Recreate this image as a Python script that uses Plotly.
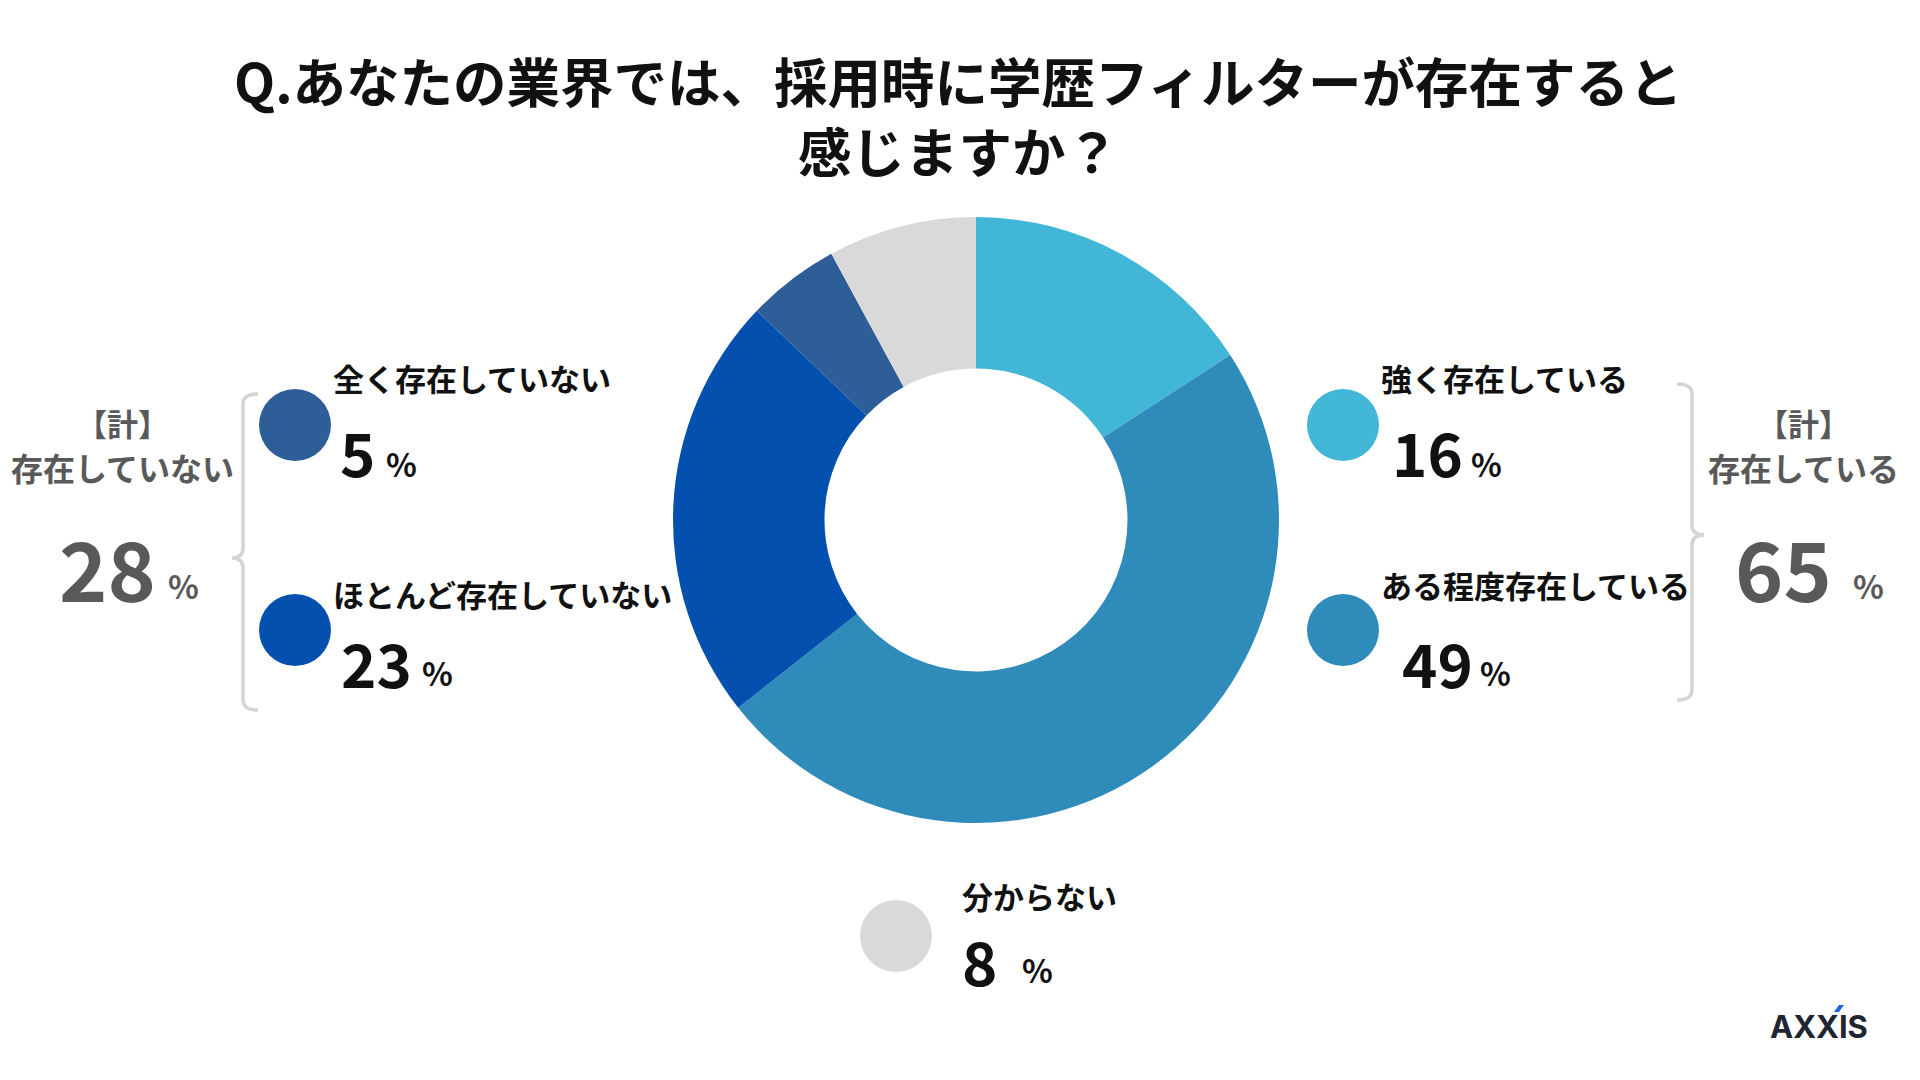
import plotly.graph_objects as go

# Data
categories = ["強く存在している", "ある程度存在している", "ほとんど存在していない", "全く存在していない", "分からない"]
values = [16, 49, 23, 5, 8]
colors = ["#41B6D6", "#2E8BBA", "#0350AE", "#2E5E98", "#D9D9D9"]
title_lines = ["Q.あなたの業界では、採用時に学歴フィルターが存在すると", "感じますか？"]
group_head = "【計】"
group_labels = ["存在している", "存在していない"]

W, H = 1920, 1080
FONT = "Noto Sans CJK JP"


def px(x):
    return x / W


def py(y):
    return 1 - y / H


fig = go.Figure()

cx, cy, R = 976, 520, 303
fig.add_trace(go.Pie(
    labels=categories, values=values, sort=False, direction="clockwise",
    hole=0.5, marker=dict(colors=colors, line=dict(width=0)),
    textinfo="none", hoverinfo="label+percent", showlegend=False,
    domain=dict(x=[px(cx - R), px(cx + R)], y=[py(cy + R), py(cy - R)]),
))

annotations = []
shapes = []


def ann(x, y, text, size, color="#111111", xanchor="left", align="left", family=FONT):
    annotations.append(dict(x=px(x), y=py(y), xref="paper", yref="paper", text=text,
                            showarrow=False, xanchor=xanchor, yanchor="middle", align=align,
                            font=dict(family=family, size=size, color=color, weight="bold")))


# Title (two lines)
ann(958, 79, title_lines[0], 53.5, xanchor="center", align="center")
ann(958, 150, title_lines[1], 53.5, xanchor="center", align="center")

# legend items: (index, circle cx, circle cy, label x, label y, number x, number y, pct x, pct y)
items = [
    (0, 1343, 425, 1379, 377, 1390, 456, 1469, 465),
    (1, 1343, 630, 1379, 584, 1400, 667, 1478, 674),
    (2, 295, 630, 331, 593, 339, 667, 420, 674),
    (3, 295, 425, 331, 377, 338, 456, 384, 465),
    (4, 896, 936, 960, 895, 960, 965, 1020, 971),
]
cr = 36
for idx, ccx, ccy, lx, ly, nx, ny, pxx, pyy in items:
    shapes.append(dict(type="circle", xref="paper", yref="paper",
                       x0=px(ccx - cr), x1=px(ccx + cr), y0=py(ccy + cr), y1=py(ccy - cr),
                       fillcolor=colors[idx], line=dict(width=0)))
    ann(lx, ly, categories[idx], 31)
    ann(nx, ny - 6, str(values[idx]), 60)
    ann(pxx, pyy - 2, "%", 32)

# Group totals
total_yes = values[0] + values[1]
total_no = values[2] + values[3]
groups = [
    (group_labels[0], total_yes, 1803, 1783, 1868),
    (group_labels[1], total_no, 123, 107, 183),
]
for lbl, tot, gx, nx, pctx in groups:
    ann(gx, 423, group_head, 31, color="#595959", xanchor="center", align="center")
    ann(gx, 467, lbl, 32, color="#595959", xanchor="center", align="center")
    ann(nx, 566, str(tot), 82, color="#595959", xanchor="center", align="center")
    ann(pctx, 585, "%", 32, color="#595959", xanchor="center", align="center")


# Braces
def brace_path(x_out, x_mid, x_tip, y0, y1, ym):
    c = 10
    return (f"M {px(x_out)},{py(y0)} "
            f"Q {px(x_mid)},{py(y0)} {px(x_mid)},{py(y0 + c)} "
            f"L {px(x_mid)},{py(ym - c)} "
            f"Q {px(x_mid)},{py(ym)} {px(x_tip)},{py(ym)} "
            f"Q {px(x_mid)},{py(ym)} {px(x_mid)},{py(ym + c)} "
            f"L {px(x_mid)},{py(y1 - c)} "
            f"Q {px(x_mid)},{py(y1)} {px(x_out)},{py(y1)}")


shapes.append(dict(type="path", xref="paper", yref="paper",
                   path=brace_path(258, 243, 232, 394, 710, 558),
                   line=dict(color="#D4D4D4", width=3.5)))
shapes.append(dict(type="path", xref="paper", yref="paper",
                   path=brace_path(1677, 1692, 1704, 384, 700, 535),
                   line=dict(color="#D4D4D4", width=3.5)))

# Logo
ann(1819, 1026, "AXXIS", 31, color="#1F2633", xanchor="center", align="center", family="Inter")
shapes.append(dict(type="path", xref="paper", yref="paper",
                   path=f"M {px(1834)},{py(1012)} L {px(1839)},{py(1012)} L {px(1844)},{py(1005)} L {px(1839)},{py(1005)} Z",
                   fillcolor="#1E63E6", line=dict(width=0)))

fig.update_layout(
    width=W, height=H, margin=dict(l=0, r=0, t=0, b=0),
    paper_bgcolor="white", plot_bgcolor="white",
    annotations=annotations, shapes=shapes,
)

fig.write_html("out.html", config={"displayModeBar": False},
               post_script="document.body.style.margin='0';document.body.style.overflow='hidden';")
